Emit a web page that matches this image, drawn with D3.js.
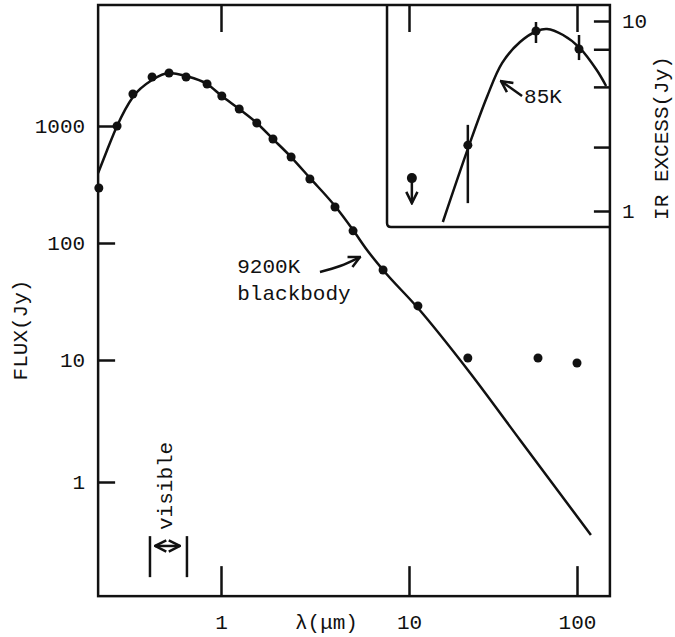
<!DOCTYPE html>
<html>
<head>
<meta charset="utf-8">
<script src="https://cdn.jsdelivr.net/npm/d3@7"></script>
<style>
  body { margin: 0; background: #fff; }
  text { font-family: "Liberation Mono", "Courier New", monospace; font-size: 21px; fill: #111; }
  .frame, .tick line, .mark { stroke: #111; stroke-width: 2.5; fill: none; }
</style>
</head>
<body>
<script>
// observed fluxes (Jy) against wavelength (um)
var obsLambda = [0.224, 0.280, 0.340, 0.430, 0.529, 0.652, 0.843, 1.01, 1.25, 1.55, 1.89, 2.36, 2.97, 4.04, 5.04, 7.28, 11.3, 22.4, 58.6, 100];
var obsFlux   = [295, 1000, 1878, 2624, 2838, 2624, 2286, 1804, 1397, 1061, 774, 543, 352, 203, 127, 58.8, 29.0, 10.4, 10.4, 9.45];

// 9200K blackbody curve
var bbLambda = [0.222, 0.248, 0.280, 0.340, 0.430, 0.529, 0.652, 0.843, 1.01, 1.25, 1.55, 1.89, 2.36, 2.97, 4.04, 5.04, 5.98, 7.28, 11.3, 22.4, 45.8, 121];
var bbFlux   = [396, 624, 1000, 1770, 2472, 2838, 2673, 2286, 1804, 1397, 1061, 774, 543, 360, 207, 129, 87.1, 58.8, 27.8, 8.28, 2.21, 0.368];

// inset: IR excess (Jy) with error bars
var irLambda = [22.4, 57.0, 102.8];
var irFlux   = [2.22, 8.86, 7.12];
var irLow    = [1.10, 7.66, 6.23];
var irHigh   = [2.84, 9.88, 8.44];
var limLambda = 10.4, limFlux = 1.49, limTo = 1.10;

// 85K dust curve
var dustLambda = [15.9, 22.8, 29.1, 35.8, 45.8, 57.8, 66.3, 82.6, 104, 131, 149];
var dustFlux   = [0.875, 2.22, 3.98, 6.0, 7.75, 8.86, 9.07, 8.44, 7.2, 5.52, 4.55];

var xTicks = [1, 10, 100];
var yTicks = [1, 10, 100, 1000];
var inTicks = [1, 2.17, 4.5, 7.1, 10];

var svg = d3.select("body").append("svg")
  .attr("width", 675).attr("height", 637);

// hand-drawn paper axes: decades are not quite even, so use piecewise log scales
var x = d3.scaleLog().domain([1, 10, 100]).range([221, 409, 577]);
var y = d3.scaleLog().domain([1, 10, 100, 1000]).range([482, 360, 243, 126]);
var yIn = d3.scaleLog().domain([1, 10]).range([211, 21]);

var xMin = 0.222, xMax = 157, yMin = 0.116, yMax = 10820;
var frameL = x(xMin), frameR = x(xMax), frameT = y(yMax), frameB = y(yMin);
var inL = x(7.64), inB = yIn(0.824);

svg.append("defs").append("marker")
  .attr("id", "arrow").attr("viewBox", "0 0 10 10")
  .attr("refX", 9).attr("refY", 5)
  .attr("markerWidth", 14).attr("markerHeight", 14)
  .attr("markerUnits", "userSpaceOnUse").attr("orient", "auto-start-reverse")
  .append("path").attr("d", "M1,1 L9,5 L1,9")
  .attr("fill", "none").attr("stroke", "#111").attr("stroke-width", 1.8);

// main frame
svg.append("rect").attr("class", "frame")
  .attr("x", frameL).attr("y", frameT)
  .attr("width", frameR - frameL).attr("height", frameB - frameT);

// inset frame (shares top and right edges)
svg.append("path").attr("class", "frame")
  .attr("d", "M" + inL + "," + frameT + "V" + (inB - 4) +
    "Q" + inL + "," + inB + " " + (inL + 4) + "," + inB + "H" + frameR);

// axes
var fmt = d3.format("d");
svg.append("g").attr("transform", "translate(0," + frameB + ")")
  .call(d3.axisBottom(x).tickValues(xTicks).tickSize(-30).tickPadding(18).tickFormat(fmt))
  .call(g => g.select(".domain").remove())
  .call(g => g.selectAll("text").attr("font-size", null).attr("font-family", null));

svg.append("g").attr("transform", "translate(0," + frameT + ")")
  .call(d3.axisTop(x).tickValues(xTicks).tickSize(-27).tickFormat(""))
  .call(g => g.select(".domain").remove());

svg.append("g").attr("transform", "translate(" + frameL + ",0)")
  .call(d3.axisLeft(y).tickValues(yTicks).tickSize(-17).tickPadding(13).tickFormat(fmt))
  .call(g => g.select(".domain").remove())
  .call(g => g.selectAll("text").attr("font-size", null).attr("font-family", null));

svg.append("g").attr("transform", "translate(" + frameR + ",0)")
  .call(d3.axisRight(yIn).tickValues(inTicks).tickSize(-16).tickPadding(12)
    .tickFormat(d => (d === 1 || d === 10) ? fmt(d) : ""))
  .call(g => g.select(".domain").remove())
  .call(g => g.selectAll("text").attr("font-size", null).attr("font-family", null));

// axis titles
svg.append("text").attr("text-anchor", "middle")
  .attr("transform", "translate(27,330) rotate(-90)").text("FLUX(Jy)");
svg.append("text").attr("text-anchor", "middle")
  .attr("transform", "translate(668,138) rotate(-90)").text("IR EXCESS(Jy)");
svg.append("text").attr("text-anchor", "middle")
  .attr("x", (x(2) + x(6)) / 2 + 4).attr("y", 629).text("λ(μm)");

// blackbody curve
var line = d3.line().x(d => x(d[0])).y(d => y(d[1])).curve(d3.curveMonotoneX);
svg.append("path").attr("class", "mark")
  .datum(d3.zip(bbLambda, bbFlux)).attr("d", line);

// observed points
svg.selectAll(".obs").data(d3.zip(obsLambda, obsFlux)).enter()
  .append("circle").attr("class", "obs")
  .attr("cx", d => x(d[0])).attr("cy", d => y(d[1])).attr("r", 4.5)
  .attr("fill", "#111");

// inset: dust curve
var inLine = d3.line().x(d => x(d[0])).y(d => yIn(d[1])).curve(d3.curveCatmullRom.alpha(0.5));
svg.append("path").attr("class", "mark")
  .datum(d3.zip(dustLambda, dustFlux)).attr("d", inLine);

irLambda.forEach(function (l, i) {
  svg.append("line").attr("class", "mark")
    .attr("x1", x(l)).attr("x2", x(l))
    .attr("y1", yIn(irLow[i])).attr("y2", yIn(irHigh[i]));
  svg.append("circle").attr("cx", x(l)).attr("cy", yIn(irFlux[i]))
    .attr("r", 4.5).attr("fill", "#111");
});

// upper limit
svg.append("line").attr("class", "mark")
  .attr("x1", x(limLambda)).attr("x2", x(limLambda))
  .attr("y1", yIn(limFlux)).attr("y2", yIn(limTo))
  .attr("marker-end", "url(#arrow)");
svg.append("circle").attr("cx", x(limLambda)).attr("cy", yIn(limFlux))
  .attr("r", 5).attr("fill", "#111");

// annotations
var arrowLine = d3.line().curve(d3.curveCardinal);
svg.append("text").attr("x", x(1.22)).attr("y", y(55.5)).text("9200K");
svg.append("text").attr("x", x(1.22)).attr("y", y(32.6)).text("blackbody");
svg.append("path").attr("class", "mark").attr("stroke-width", 2.2)
  .attr("d", arrowLine([[x(3.36), y(56.5)], [x(4.30), y(63.6)], [x(5.49), y(75.9)]]))
  .attr("marker-end", "url(#arrow)");

svg.append("text").attr("x", x(48.4)).attr("y", yIn(3.70)).text("85K");
svg.append("path").attr("class", "mark").attr("stroke-width", 2.2)
  .attr("d", arrowLine([[x(47.1), yIn(4.03)], [x(35.3), yIn(4.83)]]))
  .attr("marker-end", "url(#arrow)");

// visible band
[0.419, 0.659].forEach(function (l) {
  svg.append("line").attr("class", "mark")
    .attr("x1", x(l)).attr("x2", x(l))
    .attr("y1", y(0.36)).attr("y2", y(0.166));
});
svg.append("line").attr("class", "mark").attr("stroke-width", 2.2)
  .attr("x1", x(0.446)).attr("x2", x(0.605))
  .attr("y1", y(0.299)).attr("y2", y(0.299))
  .attr("marker-start", "url(#arrow)").attr("marker-end", "url(#arrow)");
svg.append("text")
  .attr("transform", "translate(" + x(0.549) + "," + y(0.404) + ") rotate(-90)")
  .text("visible");
</script>
</body>
</html>
